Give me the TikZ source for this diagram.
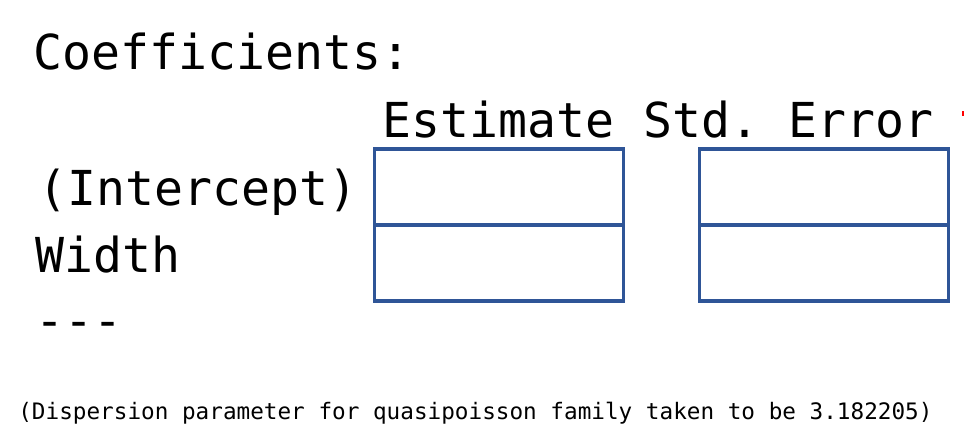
\documentclass[tikz,border=0pt]{standalone}
\usepackage{fontspec}
\setmonofont{DejaVu Sans Mono}
\usepackage{tikz}
\usepackage{xcolor}
\usetikzlibrary{positioning}
\definecolor{boxblue}{RGB}{47,85,151}
\begin{document}
\begin{tikzpicture}[x=0.02cm, y=-0.02cm,
  big/.style={anchor=base west, inner sep=0pt, font=\ttfamily\fontsize{27.4}{30}\selectfont},
  small/.style={anchor=base west, inner sep=0pt, font=\ttfamily\fontsize{12.9}{14}\selectfont},
  cell/.style={draw=boxblue, line width=2pt, rectangle, outer sep=0pt, inner sep=0pt,
    minimum width=4.98cm, minimum height=1.52cm}]
  \useasboundingbox (0,0) rectangle (974,439);
  \node[big] (coef) at (33,70) {Coefficients:};
  \node[big] (head) at (382,137) {Estimate Std. Error};
  \node[big] (icpt) at (38,205) {(Intercept)};
  \node[big] (width) at (35,272) {Width};
  \node[big] (dash) at (35,337) {---};
  % empty cells
  \node[cell] (estA) at (499,187) {};
  \node[cell, below=0pt of estA] (estB) {};
  \node[cell, right=1.52cm of estA] (seA) {};
  \node[cell, below=0pt of seA] (seB) {};
  \node[small] (disp) at (18,419) {(Dispersion parameter for quasipoisson family taken to be 3.182205)};
  \fill[red] (962,111) rectangle (964,116);
\end{tikzpicture}
\end{document}
